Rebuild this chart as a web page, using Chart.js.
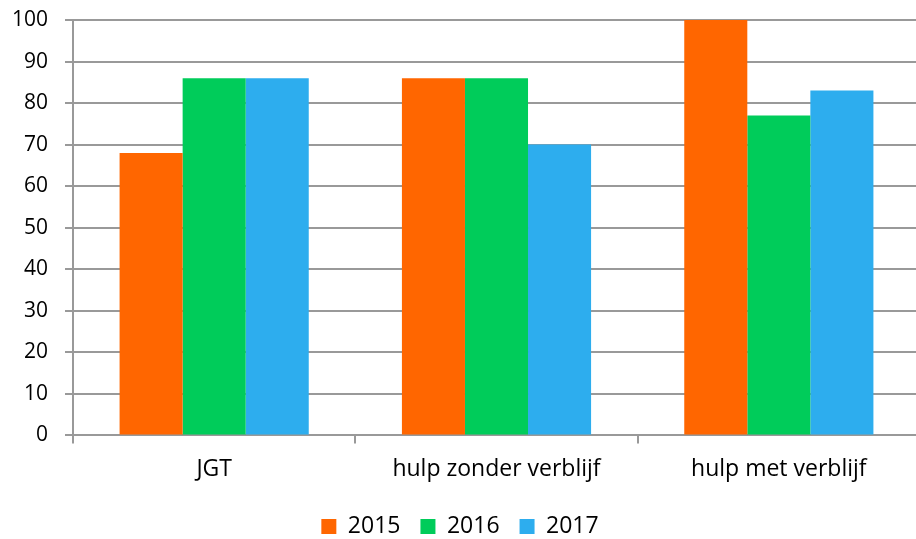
<!DOCTYPE html>
<html>
<head>
<meta charset="utf-8">
<script src="https://cdn.jsdelivr.net/npm/chart.js@4/dist/chart.umd.min.js"></script>
<style>
  html, body { margin: 0; padding: 0; background: #fff; overflow: hidden; }
  #wrap { width: 920px; height: 539px; }
</style>
</head>
<body>
<div id="wrap"><canvas id="chart"></canvas></div>
<script>
const categories = ['JGT', 'hulp zonder verblijf', 'hulp met verblijf'];
const years = ['2015', '2016', '2017'];
const values2015 = [68, 86, 100];
const values2016 = [86, 86, 77];
const values2017 = [86, 70, 83];
const colors = ['#FF6600', '#00CC5A', '#2DADEE'];

const fontFamily = "'Open Sans', 'Liberation Sans', sans-serif";

new Chart(document.getElementById('chart'), {
  type: 'bar',
  data: {
    labels: categories,
    datasets: [values2015, values2016, values2017].map((d, i) => ({
      label: years[i],
      data: d,
      backgroundColor: colors[i],
      borderWidth: 0,
      barPercentage: 1,
      categoryPercentage: 0.67
    }))
  },
  options: {
    responsive: true,
    maintainAspectRatio: false,
    animation: false,
    layout: { padding: { top: 20, right: 0, left: 0, bottom: -9 } },
    plugins: {
      tooltip: { enabled: false },
      legend: {
        position: 'bottom',
        labels: {
          boxWidth: 15,
          boxHeight: 15,
          padding: 20,
          color: '#000',
          font: { family: fontFamily, size: 23 }
        }
      }
    },
    scales: {
      x: {
        grid: {
          drawOnChartArea: false,
          drawTicks: true,
          tickLength: 8,
          color: '#999',
          lineWidth: 2
        },
        border: { color: '#999', width: 2 },
        ticks: {
          color: '#000',
          padding: 12,
          font: { family: fontFamily, size: 23 }
        }
      },
      y: {
        min: 0,
        max: 100,
        afterFit: (scale) => {
          scale.width = 73;
          scale.paddingTop = 0;
        },
        ticks: {
          stepSize: 10,
          color: '#000',
          padding: 17,
          font: { family: fontFamily, size: 21 }
        },
        grid: {
          color: '#999',
          lineWidth: 2,
          tickLength: 8
        },
        border: { color: '#999', width: 2 }
      }
    }
  }
});
</script>
</body>
</html>
